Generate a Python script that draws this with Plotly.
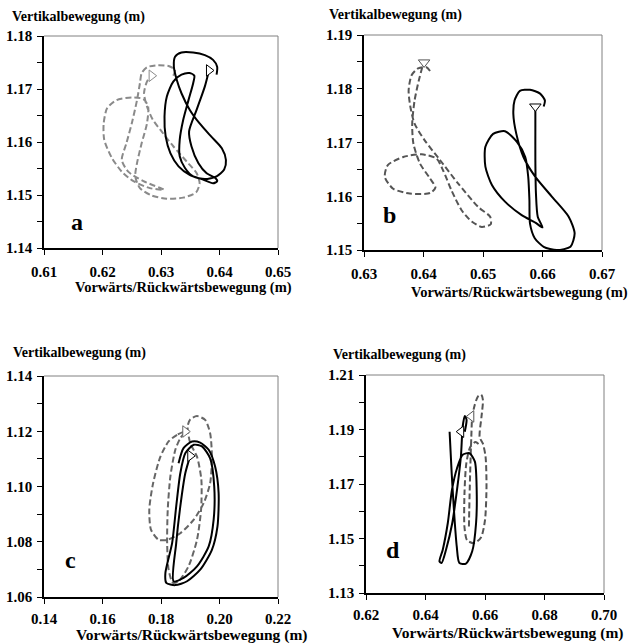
import plotly.graph_objects as go

# ---------------- data ----------------
# Panel a
a_black_x = [0.6395, 0.6396, 0.6389, 0.6375, 0.6355, 0.6335, 0.6324, 0.6322, 0.6327, 0.6335, 0.6349, 0.6366,
             0.6386, 0.6404, 0.6411, 0.6408, 0.6395, 0.6375, 0.6355, 0.6341, 0.6332, 0.6332, 0.6338, 0.6347,
             0.6355, 0.6357, 0.6349, 0.6335, 0.6321, 0.6310, 0.6306, 0.6308, 0.6316, 0.6330, 0.6349, 0.6372,
             0.6389, 0.6396, 0.6393, 0.6378, 0.6364, 0.6352, 0.6348, 0.6361, 0.6375, 0.6382]
a_black_y = [1.1727, 1.1742, 1.1755, 1.1764, 1.1769, 1.1769, 1.1761, 1.1742, 1.1717, 1.1692, 1.1661, 1.1635,
             1.1610, 1.1588, 1.1566, 1.1548, 1.1535, 1.1530, 1.1535, 1.1551, 1.1573, 1.1604, 1.1642, 1.1679,
             1.1711, 1.1725, 1.1730, 1.1727, 1.1714, 1.1686, 1.1648, 1.1610, 1.1579, 1.1554, 1.1538, 1.1529,
             1.1522, 1.1526, 1.1532, 1.1541, 1.1560, 1.1592, 1.1620, 1.1661, 1.1705, 1.1735]
a_gray_x = [0.6321, 0.6324, 0.6314, 0.6295, 0.6276, 0.6267, 0.6264, 0.6259, 0.6250, 0.6241, 0.6233, 0.6244,
            0.6270, 0.6305, 0.6281, 0.6253, 0.6233, 0.6216, 0.6203, 0.6202, 0.6208, 0.6224, 0.6250, 0.6270,
            0.6278, 0.6276, 0.6267, 0.6259, 0.6256, 0.6264, 0.6284, 0.6310, 0.6338, 0.6360, 0.6366, 0.6361,
            0.6344, 0.6321, 0.6301, 0.6286, 0.6276, 0.6271, 0.6276, 0.6284]
a_gray_y = [1.1725, 1.1736, 1.1743, 1.1745, 1.1741, 1.1730, 1.1711, 1.1679, 1.1635, 1.1598, 1.1566, 1.1544,
            1.1526, 1.1510, 1.1513, 1.1526, 1.1544, 1.1570, 1.1604, 1.1635, 1.1664, 1.1679, 1.1684, 1.1681,
            1.1667, 1.1635, 1.1598, 1.1560, 1.1535, 1.1513, 1.1499, 1.1493, 1.1495, 1.1505, 1.1522, 1.1541,
            1.1563, 1.1592, 1.1620, 1.1642, 1.1667, 1.1692, 1.1714, 1.1725]

# Panel b
b_black_x = [0.6602, 0.6604, 0.6596, 0.6579, 0.6562, 0.6553, 0.6551, 0.6556, 0.6568, 0.6588, 0.6616, 0.6644,
             0.6654, 0.6647, 0.6624, 0.6602, 0.6587, 0.6579, 0.6578, 0.6576, 0.6571, 0.6557, 0.6537, 0.6517,
             0.6504, 0.6504, 0.6515, 0.6537, 0.6565, 0.6588, 0.6600, 0.6592, 0.6589, 0.6588, 0.6588, 0.6588]
b_black_y = [1.1767, 1.1778, 1.1791, 1.1798, 1.1796, 1.1778, 1.1753, 1.1716, 1.1673, 1.1636, 1.1599, 1.1562,
             1.1531, 1.1506, 1.1500, 1.1506, 1.1522, 1.1549, 1.1593, 1.1636, 1.1673, 1.1701, 1.1721, 1.1716,
             1.1692, 1.1655, 1.1621, 1.1590, 1.1565, 1.1551, 1.1542, 1.1562, 1.1605, 1.1667, 1.1729, 1.1767]
b_gray_x = [0.6411, 0.6405, 0.6391, 0.6380, 0.6375, 0.6378, 0.6385, 0.6402, 0.6428, 0.6458, 0.6492, 0.6512,
            0.6513, 0.6498, 0.6481, 0.6464, 0.6447, 0.6433, 0.6422, 0.6397, 0.6366, 0.6340, 0.6335, 0.6349,
            0.6377, 0.6411, 0.6420, 0.6411, 0.6394, 0.6383, 0.6381, 0.6385, 0.6392, 0.6398, 0.6401]
b_gray_y = [1.1833, 1.1840, 1.1838, 1.1825, 1.1797, 1.1766, 1.1735, 1.1704, 1.1667, 1.1624, 1.1580, 1.1562,
            1.1548, 1.1543, 1.1553, 1.1574, 1.1611, 1.1648, 1.1670, 1.1678, 1.1673, 1.1658, 1.1636, 1.1614,
            1.1605, 1.1606, 1.1616, 1.1633, 1.1661, 1.1698, 1.1735, 1.1778, 1.1815, 1.1840, 1.1849]

# Panel c
c_black_x = [0.1900, 0.1883, 0.1866, 0.1852, 0.1843, 0.1877, 0.1923, 0.1963, 0.1980, 0.1982, 0.1968, 0.1940,
             0.1912, 0.1883, 0.1866, 0.1852, 0.1838, 0.1815, 0.1818, 0.1849, 0.1889, 0.1934, 0.1974, 0.1993,
             0.1997, 0.1985, 0.1963, 0.1934, 0.1906, 0.1877, 0.1860]
c_black_y = [1.1111, 1.1048, 1.0928, 1.0795, 1.0657, 1.0669, 1.0711, 1.0783, 1.0880, 1.1000, 1.1102, 1.1145,
             1.1151, 1.1120, 1.1048, 1.0928, 1.0795, 1.0687, 1.0651, 1.0643, 1.0657, 1.0699, 1.0771, 1.0855,
             1.0976, 1.1072, 1.1133, 1.1159, 1.1163, 1.1139, 1.1084]
c_gray_x = [0.1883, 0.1855, 0.1826, 0.1798, 0.1773, 0.1760, 0.1766, 0.1792, 0.1821, 0.1866, 0.1912, 0.1946,
            0.1968, 0.1974, 0.1968, 0.1951, 0.1923, 0.1900, 0.1891, 0.1900, 0.1923, 0.1938, 0.1937, 0.1923,
            0.1894, 0.1860, 0.1841, 0.1826, 0.1821, 0.1823, 0.1832, 0.1849, 0.1866, 0.1883]
c_gray_y = [1.1199, 1.1187, 1.1163, 1.1108, 1.1012, 1.0916, 1.0843, 1.0807, 1.0807, 1.0831, 1.0880, 1.0940,
            1.1012, 1.1108, 1.1193, 1.1241, 1.1255, 1.1243, 1.1217, 1.1157, 1.1108, 1.1024, 1.0916, 1.0807,
            1.0711, 1.0657, 1.0651, 1.0699, 1.0795, 1.0916, 1.1036, 1.1133, 1.1175, 1.1199]

# Panel d
d_black_x = [0.6481, 0.6488, 0.6497, 0.6505, 0.6514, 0.6536, 0.6557, 0.6570, 0.6572, 0.6566, 0.6548, 0.6525,
             0.6506, 0.6489, 0.6475, 0.6458, 0.6447, 0.6454, 0.6469, 0.6490, 0.6506, 0.6519, 0.6525, 0.6532,
             0.6538, 0.6532]
d_black_y = [1.1892, 1.1740, 1.1581, 1.1471, 1.1410, 1.1408, 1.1453, 1.1557, 1.1679, 1.1782, 1.1813, 1.1807,
             1.1758, 1.1679, 1.1557, 1.1459, 1.1416, 1.1410, 1.1459, 1.1557, 1.1679, 1.1801, 1.1911, 1.1950,
             1.1935, 1.1892]
d_gray_x = [0.6546, 0.6548, 0.6551, 0.6554, 0.6557, 0.6565, 0.6576, 0.6587, 0.6593, 0.6588, 0.6582, 0.6593,
            0.6602, 0.6605, 0.6600, 0.6587, 0.6565, 0.6540, 0.6531, 0.6531, 0.6537, 0.6550, 0.6568, 0.6584]
d_gray_y = [1.1544, 1.1652, 1.1774, 1.1872, 1.1945, 1.1988, 1.2021, 1.2028, 1.2009, 1.1945, 1.1872, 1.1848,
            1.1799, 1.1689, 1.1567, 1.1505, 1.1483, 1.1493, 1.1542, 1.1664, 1.1774, 1.1835, 1.1854, 1.1841]

# start markers (x, y): [black, gray]
a_marks = [(0.6382, 1.1735), (0.6284, 1.1725)]
b_marks = [(0.6588, 1.1767), (0.6401, 1.1849)]
c_marks = [(0.1900, 1.1111), (0.1883, 1.1199)]
d_marks = [(0.6520, 1.1892), (0.6554, 1.1948)]

# axes ranges / ticks
a_xticks = [0.61, 0.62, 0.63, 0.64, 0.65]
a_yticks = [1.14, 1.15, 1.16, 1.17, 1.18]
b_xticks = [0.63, 0.64, 0.65, 0.66, 0.67]
b_yticks = [1.15, 1.16, 1.17, 1.18, 1.19]
c_xticks = [0.14, 0.16, 0.18, 0.20, 0.22]
c_yticks = [1.06, 1.08, 1.10, 1.12, 1.14]
d_xticks = [0.62, 0.64, 0.66, 0.68, 0.70]
d_yticks = [1.13, 1.15, 1.17, 1.19, 1.21]
letters = ["a", "b", "c", "d"]

# ---------------- figure ----------------
W, H = 630, 644
FONT = "Liberation Serif"
fig = go.Figure()

panels = [
    dict(bx=a_black_x, by=a_black_y, gx=a_gray_x, gy=a_gray_y, marks=a_marks, xt=a_xticks, yt=a_yticks,
         gcol="#8a8a8a", sym="triangle-right", dom=(44, 278, 36, 248), letter=(77, 222),
         ytitle=(78, 17), xtitle=(183, 287), xts=14.5, so=4),
    dict(bx=b_black_x, by=b_black_y, gx=b_gray_x, gy=b_gray_y, marks=b_marks, xt=b_xticks, yt=b_yticks,
         gcol="#555555", sym="triangle-down", dom=(364, 602, 35, 250), letter=(389, 215),
         ytitle=(395, 15), xtitle=(519, 292), xts=14.5, so=4),
    dict(bx=c_black_x, by=c_black_y, gx=c_gray_x, gy=c_gray_y, marks=c_marks, xt=c_xticks, yt=c_yticks,
         gcol="#666666", sym="triangle-right", dom=(44, 278, 376, 597), letter=(70, 560),
         ytitle=(79, 353), xtitle=(191, 635), xts=15.5, so=2),
    dict(bx=d_black_x, by=d_black_y, gx=d_gray_x, gy=d_gray_y, marks=d_marks, xt=d_xticks, yt=d_yticks,
         gcol="#555555", sym="triangle-left", dom=(366, 604, 375, 593), letter=(393, 550),
         ytitle=(399, 355), xtitle=(507, 633), xts=15.5, so=2),
]

annotations = []
shapes = []
for i, p in enumerate(panels, start=1):
    sfx = "" if i == 1 else str(i)
    xa, ya = "x" + sfx, "y" + sfx
    l, r, t, b = p["dom"]
    fig.add_trace(go.Scatter(x=p["gx"], y=p["gy"], mode="lines", xaxis=xa, yaxis=ya,
                             line=dict(color=p["gcol"], width=2, dash="6px,3px", shape="spline", smoothing=0.7),
                             showlegend=False, hoverinfo="skip"))
    fig.add_trace(go.Scatter(x=p["bx"], y=p["by"], mode="lines", xaxis=xa, yaxis=ya,
                             line=dict(color="black", width=2, shape="spline", smoothing=0.7),
                             showlegend=False, hoverinfo="skip"))
    fig.add_trace(go.Scatter(x=[m[0] for m in p["marks"]], y=[m[1] for m in p["marks"]], mode="markers",
                             xaxis=xa, yaxis=ya,
                             marker=dict(symbol=p["sym"], size=10, color="white",
                                         line=dict(color=["black", p["gcol"]], width=1)),
                             showlegend=False, hoverinfo="skip"))
    xt, yt = p["xt"], p["yt"]
    dy = yt[1] - yt[0]
    fig.layout["xaxis" + sfx] = dict(
        domain=[l / W, r / W], anchor=ya, range=[xt[0], xt[-1]], tickvals=xt, automargin=False,
        ticktext=["<b>%.2f</b>" % v for v in xt], showgrid=False, zeroline=False, ticklabelstandoff=p["so"],
        showline=True, linecolor="black", linewidth=1.5, ticks="outside", ticklen=5, tickwidth=1,
        tickcolor="black", tickfont=dict(family=FONT, size=15, color="black"), fixedrange=True)
    fig.layout["yaxis" + sfx] = dict(
        domain=[1 - b / H, 1 - t / H], anchor=xa, range=[yt[0], yt[-1]], tickvals=yt, automargin=False,
        ticktext=["<b>%.2f</b>" % v for v in yt], showgrid=False, zeroline=False, ticklabelstandoff=2,
        showline=True, linecolor="black", linewidth=1.5, ticks="outside", ticklen=5, tickwidth=1,
        tickcolor="black", tickfont=dict(family=FONT, size=15, color="black"), fixedrange=True,
        minor=dict(tickvals=[v + dy / 2 for v in yt[:-1]], ticks="outside", ticklen=5, tickcolor="black",
                   showgrid=False))
    # gray top and right frame
    shapes.append(dict(type="line", xref=xa + " domain", yref=ya + " domain", x0=0, x1=1, y0=1, y1=1,
                       line=dict(color="#808080", width=1)))
    shapes.append(dict(type="line", xref=xa + " domain", yref=ya + " domain", x0=1, x1=1, y0=0, y1=1,
                       line=dict(color="#808080", width=1)))
    lx, ly = p["letter"]
    annotations.append(dict(text="<b>%s</b>" % letters[i - 1], x=lx / W, y=1 - ly / H, xref="paper",
                            yref="paper", showarrow=False, xanchor="center", yanchor="middle",
                            font=dict(family=FONT, size=24, color="black")))
    tx, ty = p["ytitle"]
    annotations.append(dict(text="<b>Vertikalbewegung (m)</b>", x=tx / W, y=1 - ty / H, xref="paper",
                            yref="paper", showarrow=False, xanchor="center", yanchor="middle",
                            font=dict(family=FONT, size=14, color="black")))
    qx, qy = p["xtitle"]
    annotations.append(dict(text="<b>Vorwärts/Rückwärtsbewegung (m)</b>", x=qx / W, y=1 - qy / H,
                            xref="paper", yref="paper", showarrow=False, xanchor="center", yanchor="middle",
                            font=dict(family=FONT, size=p["xts"], color="black")))

fig.update_layout(width=W, height=H, margin=dict(l=0, r=0, t=0, b=0), paper_bgcolor="white",
                  plot_bgcolor="white", annotations=annotations, shapes=shapes, showlegend=False)
# remove the browser's default page margin so the 630x644 figure fills the window exactly
fig.write_html("out.html", config={"displayModeBar": False},
               post_script="document.body.style.margin='0';document.body.style.overflow='hidden';")
